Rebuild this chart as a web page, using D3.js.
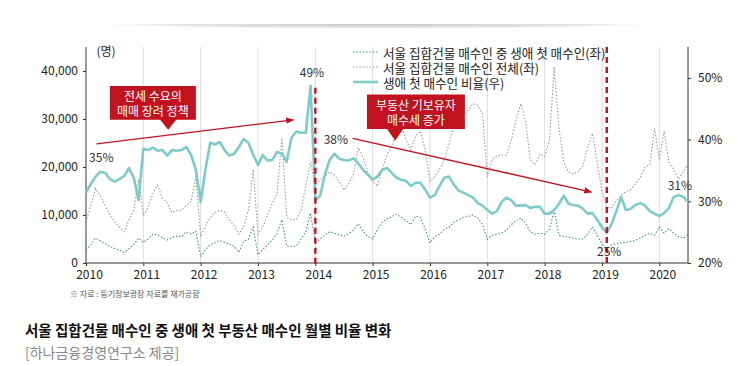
<!DOCTYPE html>
<html><head><meta charset="utf-8">
<script src="https://cdn.jsdelivr.net/npm/d3@7"></script>
<style>
html,body{margin:0;padding:0;background:#fff;}
svg{display:block;font-family:"Noto Sans CJK KR","Noto Sans",sans-serif;}
</style></head>
<body><svg id="chart" width="746" height="366"></svg>
<script>
// ---- data (monthly, Jan 2010 .. Jul 2020) ----
const startYear = 2010;
const yearLabels = ["2010","2011","2012","2013","2014","2015","2016","2017","2018","2019","2020"];
const leftTicks = [0, 10000, 20000, 30000, 40000];
const rightTicks = [20, 30, 40, 50];
const ratio = [31.4,32.8,34.0,34.8,34.6,33.6,33.2,33.6,34.1,35.4,33.8,30.2,
  38.5,38.3,38.7,38.2,38.3,37.4,38.3,38.2,38.3,38.8,37.5,35.1,
  29.9,35.1,39.5,39.2,39.6,38.3,37.4,37.7,38.8,40.1,39.5,37.5,
  35.9,37.5,36.6,36.7,38.0,37.7,36.4,40.3,41.3,41.1,41.1,48.7,
  30.2,30.9,34.3,36.7,37.7,36.9,36.7,36.6,37.0,36.1,35.1,34.3,
  33.5,34.0,35.1,35.4,34.6,33.8,33.5,33.3,32.5,33.0,33.0,31.9,
  30.6,31.0,32.5,33.8,34.0,32.7,31.7,31.4,31.0,30.6,29.7,29.3,
  28.6,28.0,28.4,29.9,30.6,30.2,29.3,29.3,29.4,28.9,29.1,29.1,
  28.0,28.0,28.6,29.6,30.9,29.6,29.4,29.3,28.8,28.0,28.1,27.0,
  25.8,24.9,26.3,28.4,30.7,28.6,28.8,29.4,29.7,29.3,28.4,28.0,
  27.6,28.1,28.9,30.7,31.0,30.7,29.9];
const firstBuyers = [2700,3800,5200,4600,4000,3500,3000,2700,2200,3000,3800,5200,
  4300,5000,6000,5900,5200,4800,5300,5600,5500,6500,6000,6600,
  1300,2800,3800,4200,4700,4300,4000,3500,2200,4500,5000,7500,
  1700,2800,3800,4800,6200,9000,3500,3500,3500,5000,6500,10400,
  4200,5000,5800,6500,6200,5800,5600,6200,6800,8200,6500,5500,
  5000,7000,8500,9200,9600,10200,9500,8800,8000,9800,9500,7000,
  4200,5500,6000,7000,7500,8500,9000,9500,9700,10000,9400,8000,
  5000,5800,6000,6300,6800,8000,8800,9400,8300,6500,6000,6200,
  6000,7000,11000,5800,5500,5400,5200,5000,5000,6000,7500,5800,
  4000,2700,3800,4000,4200,4300,4500,4700,5200,5800,6200,5800,
  7500,6200,7200,6200,5500,5200,5800];
const totalBuyers = [8600,12000,15500,14000,12000,10000,8500,7500,6500,9000,11000,17500,
  10000,11500,14500,16200,13500,12500,10500,11000,11000,12000,12800,18000,
  5500,7800,9500,10500,11000,10600,9000,7800,6000,7500,11000,19500,
  6000,7500,10000,12500,14500,26000,9500,9000,9000,11000,16000,21000,
  16000,17300,18000,19000,18300,17000,15200,16500,18500,24000,22000,19000,
  17000,16000,19500,22500,24500,27000,28500,25700,23500,26500,27500,23500,
  17000,18000,19500,21500,25000,28500,29800,30800,31800,33200,32800,31000,
  18000,21500,22300,22500,22500,25500,29700,33200,29700,21500,20500,22700,
  22200,25600,40900,28000,21000,19000,18500,19000,20300,24000,27000,21000,
  15000,11700,11400,13000,14200,14800,15300,16500,17800,20000,20500,28000,
  21500,27500,21000,19500,17500,19000,20500];
const seriesNames = ["서울 집합건물 매수인 중 생애 첫 매수인(좌)","서울 집합건물 매수인 전체(좌)","생애 첫 매수인 비율(우)"];
const eventMonths = [48, 109];
const pctNotes = [
  {m:3.2, v:37.2, t:"35%"}, {m:47.3, v:51.0, t:"49%"}, {m:52.3, v:40.1, t:"38%"},
  {m:109.5, v:22.1, t:"25%"}, {m:124.3, v:32.8, t:"31%"}];
const boxes = [
  {m0:5.0, m1:23.0, v0:48.7, v1:43.2, tip:[17.2,41.6], lines:["전세 수요의","매매 장려 정책"]},
  {m0:58.8, m1:79.3, v0:47.3, v1:41.7, tip:[64.7,39.8], lines:["부동산 기보유자","매수세 증가"]}];
const arrows = [
  {a:[2.2,39.3], b:[43.4,43.2]},
  {a:[55.8,40.2], b:[105.8,31.5]}];

// ---- chart ----
const svg = d3.select("#chart");
const L = 86, R = 688, T = 47, B = 263;
const x = d3.scaleLinear().domain([0,126]).range([L,R]);
const yL = d3.scaleLinear().domain([0,45000]).range([B,T]);
const yR = d3.scaleLinear().domain([20,55]).range([B,T]);
const RED = "#c0121f";

// top shadow
const defs = svg.append("defs");
const rg = defs.append("radialGradient").attr("id","shadow").attr("cx","50%").attr("cy","50%").attr("r","50%");
rg.append("stop").attr("offset","0%").attr("stop-color","#c8c8c8");
rg.append("stop").attr("offset","70%").attr("stop-color","#e4e4e4");
rg.append("stop").attr("offset","100%").attr("stop-color","#fff").attr("stop-opacity",0);
svg.append("ellipse").attr("cx",378).attr("cy",24).attr("rx",300).attr("ry",5).attr("fill","url(#shadow)");
svg.append("rect").attr("x",60).attr("y",0).attr("width",640).attr("height",24).attr("fill","#fff");

// year grid
const yearMonths = yearLabels.map((d,i)=>i*12);
svg.append("g").selectAll("line").data(yearMonths.slice(1)).join("line")
  .attr("x1",d=>x(d)).attr("x2",d=>x(d)).attr("y1",T).attr("y2",B)
  .attr("stroke","#dcdcdc").attr("stroke-width",1);

// axes
const axL = svg.append("g").attr("transform",`translate(${L},0)`)
  .call(d3.axisLeft(yL).tickValues(leftTicks).tickFormat(d3.format(",")).tickSize(3).tickPadding(5));
const axR = svg.append("g").attr("transform",`translate(${R},0)`)
  .call(d3.axisRight(yR).tickValues(rightTicks).tickFormat(d=>d+"%").tickSize(3).tickPadding(7));
const axB = svg.append("g").attr("transform",`translate(0,${B})`)
  .call(d3.axisBottom(x).tickValues(yearMonths).tickFormat((d,i)=>yearLabels[i]).tickSize(3).tickPadding(4));
[axL,axR,axB].forEach(g=>{
  g.select(".domain").attr("stroke","#333").attr("stroke-width",1);
  g.selectAll(".tick line").attr("stroke","#333");
  g.selectAll("text").attr("font-size",12).attr("fill","#222").attr("font-family",'"Noto Sans CJK KR",sans-serif');
});
axL.select(".domain").attr("d",`M0,${T}V${B}`);
axR.select(".domain").attr("d",`M0,${T}V${B}`);
axB.select(".domain").attr("d",`M${L},0H${R}`);
axB.selectAll(".tick text").attr("dx",3);
svg.append("text").attr("x",106).attr("y",50).attr("text-anchor","middle").attr("dominant-baseline","central")
  .attr("font-size",12).attr("fill","#222").text("(명)");

// lines
const lineL = d3.line().x((d,i)=>x(i)).y(d=>yL(d));
const lineR = d3.line().x((d,i)=>x(i)).y(d=>yR(d));
svg.append("path").datum(totalBuyers).attr("d",lineL).attr("fill","none")
  .attr("stroke","#9a9a9a").attr("stroke-width",1.1).attr("stroke-dasharray","1.5,1.8");
svg.append("path").datum(firstBuyers).attr("d",lineL).attr("fill","none")
  .attr("stroke","#3f8f8f").attr("stroke-width",1.1).attr("stroke-dasharray","1.5,1.8");
svg.append("path").datum(ratio).attr("d",lineR).attr("fill","none")
  .attr("stroke","#7fcaca").attr("stroke-width",2.6).attr("stroke-linejoin","round");

// event dashed lines
svg.append("g").selectAll("line").data(eventMonths).join("line")
  .attr("x1",d=>x(d)).attr("x2",d=>x(d))
  .attr("y1",(d,i)=> i===0 ? yR(48.4) : T).attr("y2",B+4)
  .attr("stroke",RED).attr("stroke-width",2.4).attr("stroke-dasharray","6,4");

// arrows
defs.append("marker").attr("id","ah").attr("viewBox","0 0 10 10").attr("refX",9).attr("refY",5)
  .attr("markerWidth",8).attr("markerHeight",8).attr("orient","auto").attr("markerUnits","userSpaceOnUse")
  .append("path").attr("d","M0,1L10,5L0,9Z").attr("fill",RED);
svg.append("g").selectAll("line").data(arrows).join("line")
  .attr("x1",d=>x(d.a[0])).attr("y1",d=>yR(d.a[1])).attr("x2",d=>x(d.b[0])).attr("y2",d=>yR(d.b[1]))
  .attr("stroke",RED).attr("stroke-width",1.3).attr("marker-end","url(#ah)");

// annotation boxes
boxes.forEach(b=>{
  const x0=x(b.m0), x1=x(b.m1), y0=yR(b.v0), y1=yR(b.v1), tx=x(b.tip[0]), ty=yR(b.tip[1]);
  svg.append("path").attr("d",`M${x0},${y0}H${x1}V${y1}H${tx+8}L${tx},${ty}L${tx-8},${y1}H${x0}Z`)
    .attr("fill",RED);
  const cx=(x0+x1)/2, cy=(y0+y1)/2;
  svg.append("text").attr("x",cx).attr("y",cy-7).attr("text-anchor","middle").attr("dominant-baseline","central")
    .attr("font-size",12).attr("fill","#fff").text(b.lines[0]);
  svg.append("text").attr("x",cx).attr("y",cy+8).attr("text-anchor","middle").attr("dominant-baseline","central")
    .attr("font-size",12).attr("fill","#fff").text(b.lines[1]);
});

// percent notes
svg.append("g").selectAll("text").data(pctNotes).join("text")
  .attr("x",d=>x(d.m)).attr("y",d=>yR(d.v)).attr("text-anchor","middle").attr("dominant-baseline","central")
  .attr("font-size",12).attr("fill","#333").text(d=>d.t);

// legend
const lg = svg.append("g");
const styles = [
  {stroke:"#3f8f8f", w:1.1, dash:"1.5,1.8"},
  {stroke:"#9a9a9a", w:1.1, dash:"1.5,1.8"},
  {stroke:"#7fcaca", w:2.6, dash:null}];
seriesNames.forEach((n,i)=>{
  const yy = 52 + i*15;
  lg.append("line").attr("x1",353).attr("x2",378).attr("y1",yy).attr("y2",yy)
    .attr("stroke",styles[i].stroke).attr("stroke-width",styles[i].w).attr("stroke-dasharray",styles[i].dash);
  lg.append("text").attr("x",383).attr("y",yy).attr("dominant-baseline","central")
    .attr("font-size",12.6).attr("fill","#222").text(n);
});

// footer
svg.append("text").attr("x",70).attr("y",293).attr("dominant-baseline","central")
  .attr("font-size",8).attr("fill","#555").text("※ 자료 : 등기정보광장 자료를 재가공함");
svg.append("text").attr("x",25).attr("y",329).attr("dominant-baseline","central")
  .attr("font-size",14.5).attr("font-weight","bold").attr("fill","#111").text("서울 집합건물 매수인 중 생애 첫 부동산 매수인 월별 비율 변화");
svg.append("text").attr("x",25).attr("y",352).attr("dominant-baseline","central")
  .attr("font-size",14).attr("fill","#8a8a8a").text("[하나금융경영연구소 제공]");
</script></body></html>
